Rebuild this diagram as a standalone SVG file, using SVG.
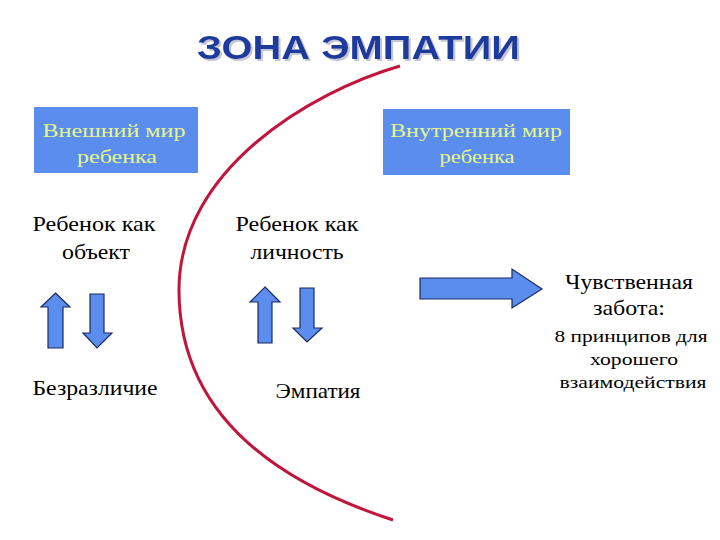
<svg xmlns="http://www.w3.org/2000/svg" width="720" height="540" viewBox="0 0 720 540">
<defs>
<filter id="sh" x="-5%" y="-20%" width="110%" height="150%">
<feOffset in="SourceAlpha" dx="2" dy="2" result="o"/>
<feFlood flood-color="#c4c6d4"/>
<feComposite in2="o" operator="in" result="s"/>
<feMerge><feMergeNode in="s"/><feMergeNode in="SourceGraphic"/></feMerge>
</filter>
</defs>
<style>
.title{font-family:"Liberation Sans",Arial,sans-serif;font-weight:bold;font-size:34px;fill:#1b3a9c}
.box{fill:#5b8def}
.btxt{font-size:19px;fill:#e6f58a;text-anchor:middle}
.txt{font-size:21px;fill:#000;text-anchor:middle}
.small{font-size:16px;fill:#000;text-anchor:middle}
.arr{fill:#5b8def;stroke:#1c2a5c;stroke-width:1.2;stroke-linejoin:miter}
.arc{fill:none;stroke:#c0153d;stroke-width:3}
</style>
<rect width="720" height="540" fill="#ffffff"/>
<g id="title">
<text class="title" x="197" y="59" textLength="323" lengthAdjust="spacingAndGlyphs" filter="url(#sh)">ЗОНА ЭМПАТИИ</text>
</g>
<g font-family="'Times New Roman', 'Liberation Serif', 'DejaVu Serif', serif">
<g id="outer-world">
<rect class="box" x="34" y="107" width="164" height="66"/>
<text class="btxt" x="114" y="137" textLength="143" lengthAdjust="spacingAndGlyphs">Внешний мир</text>
<text class="btxt" x="117" y="163" textLength="80" lengthAdjust="spacingAndGlyphs">ребенка</text>
</g>
<g id="inner-world">
<rect class="box" x="383" y="109" width="187" height="66"/>
<text class="btxt" x="476" y="137" textLength="172" lengthAdjust="spacingAndGlyphs">Внутренний мир</text>
<text class="btxt" x="477" y="163" textLength="75" lengthAdjust="spacingAndGlyphs">ребенка</text>
</g>
<g id="child-object">
<text class="txt" x="94" y="231" textLength="123" lengthAdjust="spacingAndGlyphs">Ребенок как</text>
<text class="txt" x="96" y="259" textLength="68" lengthAdjust="spacingAndGlyphs">объект</text>
</g>
<g id="child-person">
<text class="txt" x="297" y="231" textLength="123" lengthAdjust="spacingAndGlyphs">Ребенок как</text>
<text class="txt" x="297" y="259" textLength="93" lengthAdjust="spacingAndGlyphs">личность</text>
</g>
<g id="indifference">
<text class="txt" x="95" y="395" textLength="125" lengthAdjust="spacingAndGlyphs">Безразличие</text>
</g>
<g id="empathy">
<text class="txt" x="318" y="398" textLength="85" lengthAdjust="spacingAndGlyphs">Эмпатия</text>
</g>
<g id="care">
<text class="txt" x="629" y="289" textLength="128" lengthAdjust="spacingAndGlyphs">Чувственная</text>
<text class="txt" x="629" y="315" textLength="72" lengthAdjust="spacingAndGlyphs">забота:</text>
<text class="small" x="631" y="342" textLength="153" lengthAdjust="spacingAndGlyphs">8 принципов для</text>
<text class="small" x="634" y="365" textLength="88" lengthAdjust="spacingAndGlyphs">хорошего</text>
<text class="small" x="633" y="388" textLength="147" lengthAdjust="spacingAndGlyphs">взаимодействия</text>
</g>
</g>
<g id="connectors">
<path class="arc" d="M400,66 C310,92 179,170 179,290 C179,410 270,480 393,520"/>
<path class="arr" d="M55.5,293 L70,307 L63,307 L63,348 L48,348 L48,307 L41,307 Z"/>
<path class="arr" d="M90,294 L104,294 L104,333 L112,333 L97,348 L83,333 L90,333 Z"/>
<path class="arr" d="M265,287 L280,302 L272,302 L272,343 L258,343 L258,302 L250,302 Z"/>
<path class="arr" d="M300,288 L314,288 L314,328 L322,328 L307,342 L293,328 L300,328 Z"/>
<path class="arr" d="M420,278 L512,278 L512,269 L542,289 L512,308 L512,299 L420,299 Z"/>
</g>
</svg>
